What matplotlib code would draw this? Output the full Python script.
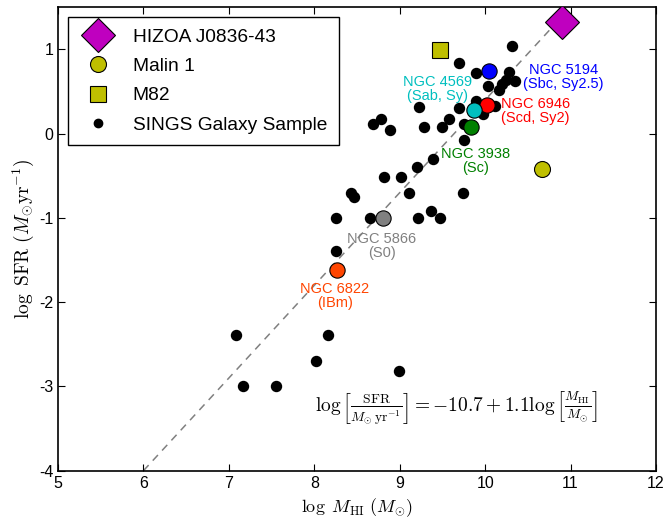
import matplotlib
matplotlib.use("Agg")
import matplotlib.pyplot as plt
from matplotlib.lines import Line2D

plt.rcParams['font.family'] = ['Liberation Sans', 'DejaVu Sans']
plt.rcParams['mathtext.fontset'] = 'cm'
plt.rcParams['axes.unicode_minus'] = False

# SINGS sample (log MHI, log SFR)
sings_x = [10.32, 9.70, 9.89, 10.28, 10.24, 10.20, 10.35, 10.03, 10.16, 9.89,
           10.11, 9.70, 9.23, 9.98, 9.58, 9.75, 9.49, 9.29, 8.78, 8.69,
           8.89, 9.75, 9.39, 9.20, 8.82, 9.02, 8.43, 8.46, 9.11, 9.74,
           8.26, 8.65, 9.22, 9.37, 9.47, 8.26, 7.08, 8.16, 8.02, 8.99,
           7.16, 7.55]
sings_y = [1.04, 0.84, 0.72, 0.73, 0.64, 0.59, 0.63, 0.57, 0.52, 0.39,
           0.33, 0.31, 0.32, 0.23, 0.18, 0.11, 0.08, 0.08, 0.17, 0.11,
           0.04, -0.07, -0.30, -0.40, -0.52, -0.52, -0.70, -0.75, -0.70, -0.70,
           -1.00, -1.00, -1.00, -0.92, -1.00, -1.39, -2.39, -2.39, -2.70, -2.82,
           -3.00, -3.00]

# special objects
hizoa = (10.90, 1.32)
malin1 = (10.67, -0.42)
m82 = (9.47, 0.99)

named_names = ['NGC 5194', 'NGC 6946', 'NGC 4569', 'NGC 3938', 'NGC 5866', 'NGC 6822']
named_types = ['(Sbc, Sy2.5)', '(Scd, Sy2)', '(Sab, Sy)', '(Sc)', '(S0)', '(IBm)']
named_x = [10.05, 10.02, 9.87, 9.84, 8.80, 8.27]
named_y = [0.74, 0.34, 0.28, 0.08, -1.00, -1.62]
named_colors = ['#0000ff', '#ff0000', '#00bfbf', '#008000', '#808080', '#ff4500']
label_x = [10.92, 10.59, 9.44, 9.89, 8.79, 8.24]
label_y = [0.675, 0.27, 0.53, -0.32, -1.33, -1.93]

# relation
fit_intercept = -10.6
fit_slope = 1.1
fit_range = [6.0, 10.9]

fig = plt.figure(figsize=(6.63, 5.21), dpi=100)
ax = fig.add_axes([0.0875, 0.0965, 0.9019, 0.8895])

fx = fit_range
fy = [fit_intercept + fit_slope * v for v in fx]
ax.plot(fx, fy, linestyle=(0, (5, 4)), color='#808080', lw=1.1, zorder=1)

ax.plot(sings_x, sings_y, 'o', color='black', ms=7.2, mec='black', ls='none', zorder=3)

for nx, ny, c in zip(named_x, named_y, named_colors):
    ax.plot(nx, ny, 'o', color=c, mec='black', mew=0.8, ms=11, zorder=4)

ax.plot(*hizoa, 'D', color='#bf00bf', mec='black', mew=0.8, ms=17, zorder=5)
ax.plot(*malin1, 'o', color='#bfbf00', mec='black', mew=0.8, ms=11.5, zorder=5)
ax.plot(*m82, 's', color='#bfbf00', mec='black', mew=0.8, ms=11.5, zorder=5)

for name, typ, lx, ly, c in zip(named_names, named_types, label_x, label_y, named_colors):
    ax.text(lx, ly, name + '\n' + typ, color=c, fontsize=10.5, ha='center', va='center',
            linespacing=1.0, zorder=6)

ax.text(9.67, -3.26,
        r'$\log\left[\frac{\mathrm{SFR}}{M_{\odot}\,\mathrm{yr}^{-1}}\right] = -10.7 + 1.1\log\left[\frac{M_{\mathrm{HI}}}{M_{\odot}}\right]$',
        fontsize=14, ha='center', va='center')

ax.set_xlim(5, 12)
ax.set_ylim(-4, 1.5)
ax.set_xticks([5, 6, 7, 8, 9, 10, 11, 12])
ax.set_yticks([-4, -3, -2, -1, 0, 1])
ax.set_xticklabels(['5', '6', '7', '8', '9', '10', '11', '12'])
ax.set_yticklabels(['-4', '-3', '-2', '-1', '0', '1'])
ax.tick_params(direction='in', top=True, right=True, labelsize=11.5, length=5, width=0.8)
for s in ax.spines.values():
    s.set_linewidth(1.2)

ax.set_xlabel(r'$\log\ M_{\mathrm{HI}}\ (M_{\odot})$', fontsize=13, labelpad=4)
ax.set_ylabel(r'$\log\ \mathrm{SFR}\ (M_{\odot}\mathrm{yr}^{-1})$', fontsize=14, labelpad=2)

handles = [
    Line2D([], [], marker='D', color='#bf00bf', mec='black', mew=0.8, ms=17, ls='none'),
    Line2D([], [], marker='o', color='#bfbf00', mec='black', mew=0.8, ms=11.5, ls='none'),
    Line2D([], [], marker='s', color='#bfbf00', mec='black', mew=0.8, ms=11.5, ls='none'),
    Line2D([], [], marker='o', color='black', ms=6, ls='none'),
]
labels = ['HIZOA J0836-43', 'Malin 1', 'M82', 'SINGS Galaxy Sample']
leg = ax.legend(handles, labels, loc='upper left', fontsize=13.8, numpoints=1,
                fancybox=False, edgecolor='black', framealpha=1, labelspacing=0.62,
                borderaxespad=0.5, handletextpad=0.8, borderpad=0.6)
leg.get_frame().set_linewidth(1.0)

fig.savefig('out.png', dpi=100)
